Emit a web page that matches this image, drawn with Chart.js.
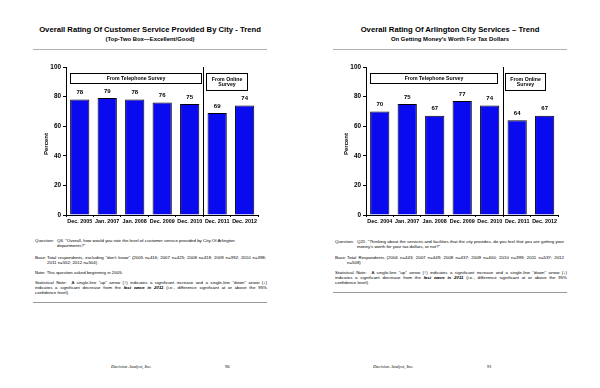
<!DOCTYPE html>
<html>
<head>
<meta charset="utf-8">
<script src="https://cdn.jsdelivr.net/npm/chart.js@4.4.0/dist/chart.umd.min.js"></script>
<style>
body{margin:0;width:600px;height:388px;background:#fff;position:relative;overflow:hidden;font-family:"Liberation Sans",Arial,sans-serif;color:#000}
.a{position:absolute;white-space:nowrap}
.ttl{font-weight:bold;font-size:7.7px;transform:translateX(-50%)}
.sub{font-weight:bold;font-size:5.9px;transform:translateX(-50%)}
.rule{position:absolute;height:0;border-top:1px solid #b0b0b0}
.fn{position:absolute;white-space:nowrap;font-size:4.4px;line-height:5px}
.j{position:absolute;white-space:nowrap;font-size:4.4px;line-height:5px;text-align:justify;text-align-last:justify}
.foot{position:absolute;white-space:nowrap;font-family:"Liberation Serif",serif;font-style:italic;font-size:4.6px}
.pg{position:absolute;white-space:nowrap;font-family:"Liberation Serif",serif;font-size:4.6px}
canvas{position:absolute}
</style>
</head>
<body>
<div class="a ttl" style="left:150px;top:25px">Overall Rating Of Customer Service Provided By City - Trend</div>
<div class="a sub" style="left:150px;top:35.5px">(Top-Two Box—Excellent/Good)</div>
<div class="rule" style="left:33px;width:234px;top:49px"></div>

<div class="a ttl" style="left:450px;top:25px">Overall Rating Of Arlington City Services – Trend</div>
<div class="a sub" style="left:450px;top:35.5px">On Getting Money's Worth For Tax Dollars</div>
<div class="rule" style="left:333px;width:234px;top:49px"></div>

<div style="position:absolute;left:30px;top:60px;width:235px;height:172px"><canvas id="cityChart"></canvas></div>
<div style="position:absolute;left:330px;top:60px;width:235px;height:172px"><canvas id="taxChart"></canvas></div>

<!-- left notes -->
<div class="fn" style="left:35px;top:237.5px">Question:</div>
<div class="fn" style="left:57px;top:237.5px">Q6. "Overall, how would you rate the level of customer service provided by City Of Arlington</div>
<div class="fn" style="left:57px;top:242.5px">departments?"</div>
<div class="fn" style="left:35px;top:254.5px">Base:</div>
<div class="j" style="left:47px;top:254.5px;width:219px">Total respondents, excluding "don't know" (2005 n=416; 2007 n=425; 2008 n=418; 2009 n=392; 2010 n=398;</div>
<div class="fn" style="left:47px;top:259.5px">2011 n=552; 2012 n=504)</div>
<div class="fn" style="left:35px;top:269.5px">Note: This question asked beginning in 2005.</div>
<div class="j" style="left:35px;top:279.5px;width:232px">Statistical Note: &nbsp;A single-line "up" arrow (↑) indicates a significant increase and a single-line "down" arrow (↓)</div>
<div class="j" style="left:35px;top:284.5px;width:232px">indicates a significant decrease from the <b><i>last wave in 2011</i></b> (i.e., difference significant at or above the 95%</div>
<div class="fn" style="left:35px;top:289.5px">confidence level).</div>
<div class="rule" style="left:33px;width:234px;top:302px;border-color:#999"></div>

<!-- right notes -->
<div class="fn" style="left:335px;top:238.5px">Question:</div>
<div class="j" style="left:357px;top:238.5px;width:207px">Q21. "Thinking about the services and facilities that the city provides, do you feel that you are getting your</div>
<div class="fn" style="left:357px;top:243.5px">money's worth for your tax dollars, or not?"</div>
<div class="fn" style="left:335px;top:254.5px">Base:</div>
<div class="j" style="left:347px;top:254.5px;width:217px">Total Respondents (2004 n=443; 2007 n=449; 2008 n=437; 2009 n=400; 2010 n=399; 2011 n=537; 2012</div>
<div class="fn" style="left:347px;top:259.5px">n=508)</div>
<div class="j" style="left:335px;top:269.5px;width:232px">Statistical Note: &nbsp;A single-line "up" arrow (↑) indicates a significant increase and a single-line "down" arrow (↓)</div>
<div class="j" style="left:335px;top:274.5px;width:232px">indicates a significant decrease from the <b><i>last wave in 2011</i></b> (i.e., difference significant at or above the 95%</div>
<div class="fn" style="left:335px;top:279.5px">confidence level).</div>
<div class="rule" style="left:333px;width:234px;top:292px;border-color:#999"></div>

<div class="foot" style="left:111px;top:364px">Decision Analyst, Inc.</div>
<div class="pg" style="left:225px;top:364px">90</div>
<div class="foot" style="left:373px;top:364px">Decision Analyst, Inc.</div>
<div class="pg" style="left:487px;top:364px">91</div>

<script>
const cityLabels = ['Dec. 2005','Jan. 2007','Jan. 2008','Dec. 2009','Dec. 2010','Dec. 2011','Dec. 2012'];
const cityValues = [78, 79, 78, 76, 75, 69, 74];
const taxLabels = ['Dec. 2004','Jan. 2007','Jan. 2008','Dec. 2009','Dec. 2010','Dec. 2011','Dec. 2012'];
const taxValues = [70, 75, 67, 77, 74, 64, 67];
const phoneLabel = 'From Telephone Survey';
const onlineLabel = ['From Online', 'Survey'];

// draws value labels, the survey divider and the two boxes
const extras = {
  id: 'extras',
  afterDatasetsDraw(chart, args, opts){
    const ctx = chart.ctx, x = chart.scales.x, y = chart.scales.y, area = chart.chartArea;
    const meta = chart.getDatasetMeta(0);
    ctx.save();
    ctx.fillStyle = '#000';
    ctx.font = 'bold 6px "Liberation Sans", Arial, sans-serif';
    ctx.textAlign = 'center';
    ctx.textBaseline = 'bottom';
    meta.data.forEach((bar, i) => {
      ctx.fillText(chart.data.datasets[0].data[i], bar.x, bar.y - 4);
    });
    // divider between phone and online survey
    const dx = Math.round(x.getPixelForValue(4.5)) + 0.5;
    ctx.strokeStyle = '#000';
    ctx.lineWidth = 1;
    ctx.beginPath();
    ctx.moveTo(dx, area.top);
    ctx.lineTo(dx, area.bottom + 2);
    ctx.stroke();
    // boxes
    const box = (v0, v1, top, bot, lines) => {
      const x0 = Math.round(x.getPixelForValue(v0)) + 0.5, x1 = Math.round(x.getPixelForValue(v1)) + 0.5;
      const y0 = Math.round(y.getPixelForValue(top)) + 0.5, y1 = Math.round(y.getPixelForValue(bot)) + 0.5;
      ctx.fillStyle = '#fff';
      ctx.fillRect(x0, y0, x1 - x0, y1 - y0);
      ctx.strokeRect(x0, y0, x1 - x0, y1 - y0);
      ctx.fillStyle = '#000';
      ctx.font = 'bold 5.2px "Liberation Sans", Arial, sans-serif';
      ctx.textBaseline = 'middle';
      const lh = 5.6, mid = (y0 + y1) / 2;
      lines.forEach((t, i) => ctx.fillText(t, (x0 + x1) / 2, mid + (i - (lines.length - 1) / 2) * lh));
    };
    box(opts.p0, opts.p1, 96, 89.3, [phoneLabel]);
    box(opts.o0, opts.o1, 96, 84.5, onlineLabel);
    // y axis title
    ctx.translate(16, (area.top + area.bottom) / 2 + 3);
    ctx.rotate(-Math.PI / 2);
    ctx.font = 'bold 6px "Liberation Sans", Arial, sans-serif';
    ctx.fillText('Percent', 0, 0);
    ctx.restore();
  }
};

function makeBars(ctx, labels, data, boxes){
  return new Chart(ctx, {
    type: 'bar',
    data: { labels, datasets: [{ data, backgroundColor:'#0a0af0', borderColor:'#000', borderWidth:1,
      barPercentage:.7, categoryPercentage:1 }]},
    plugins: [extras],
    options:{
      responsive:true, maintainAspectRatio:false, animation:false,
      layout:{ padding:{ top:7, right:6.6, left:0, bottom:0 } },
      plugins:{ legend:{display:false}, tooltip:{enabled:false}, extras: boxes },
      scales:{
        x:{
          grid:{ display:true, drawOnChartArea:false, tickLength:2, color:'#000' },
          border:{ color:'#000', width:1 },
          ticks:{ color:'#000', padding:1, maxRotation:0, autoSkip:false,
            font:{ family:'"Liberation Sans", Arial, sans-serif', size:5.4, weight:'bold' } },
          afterFit(s){ s.height = 17; }
        },
        y:{
          min:0, max:100,
          grid:{ display:true, drawOnChartArea:false, tickLength:3, color:'#000' },
          border:{ color:'#000', width:1 },
          ticks:{ stepSize:20, color:'#000', padding:2,
            font:{ family:'"Liberation Sans", Arial, sans-serif', size:6.4, weight:'bold' } },
          afterFit(s){ s.width = 36; }
        }
      }
    }
  });
}

window.addEventListener('DOMContentLoaded', ()=>{
  makeBars(document.getElementById('cityChart'), cityLabels, cityValues, { p0:-0.35, p1:4.4, o0:4.59, o1:6.08 });
  makeBars(document.getElementById('taxChart'), taxLabels, taxValues, { p0:-0.35, p1:4.28, o0:4.57, o1:6.02 });
});
</script>
</body>
</html>
